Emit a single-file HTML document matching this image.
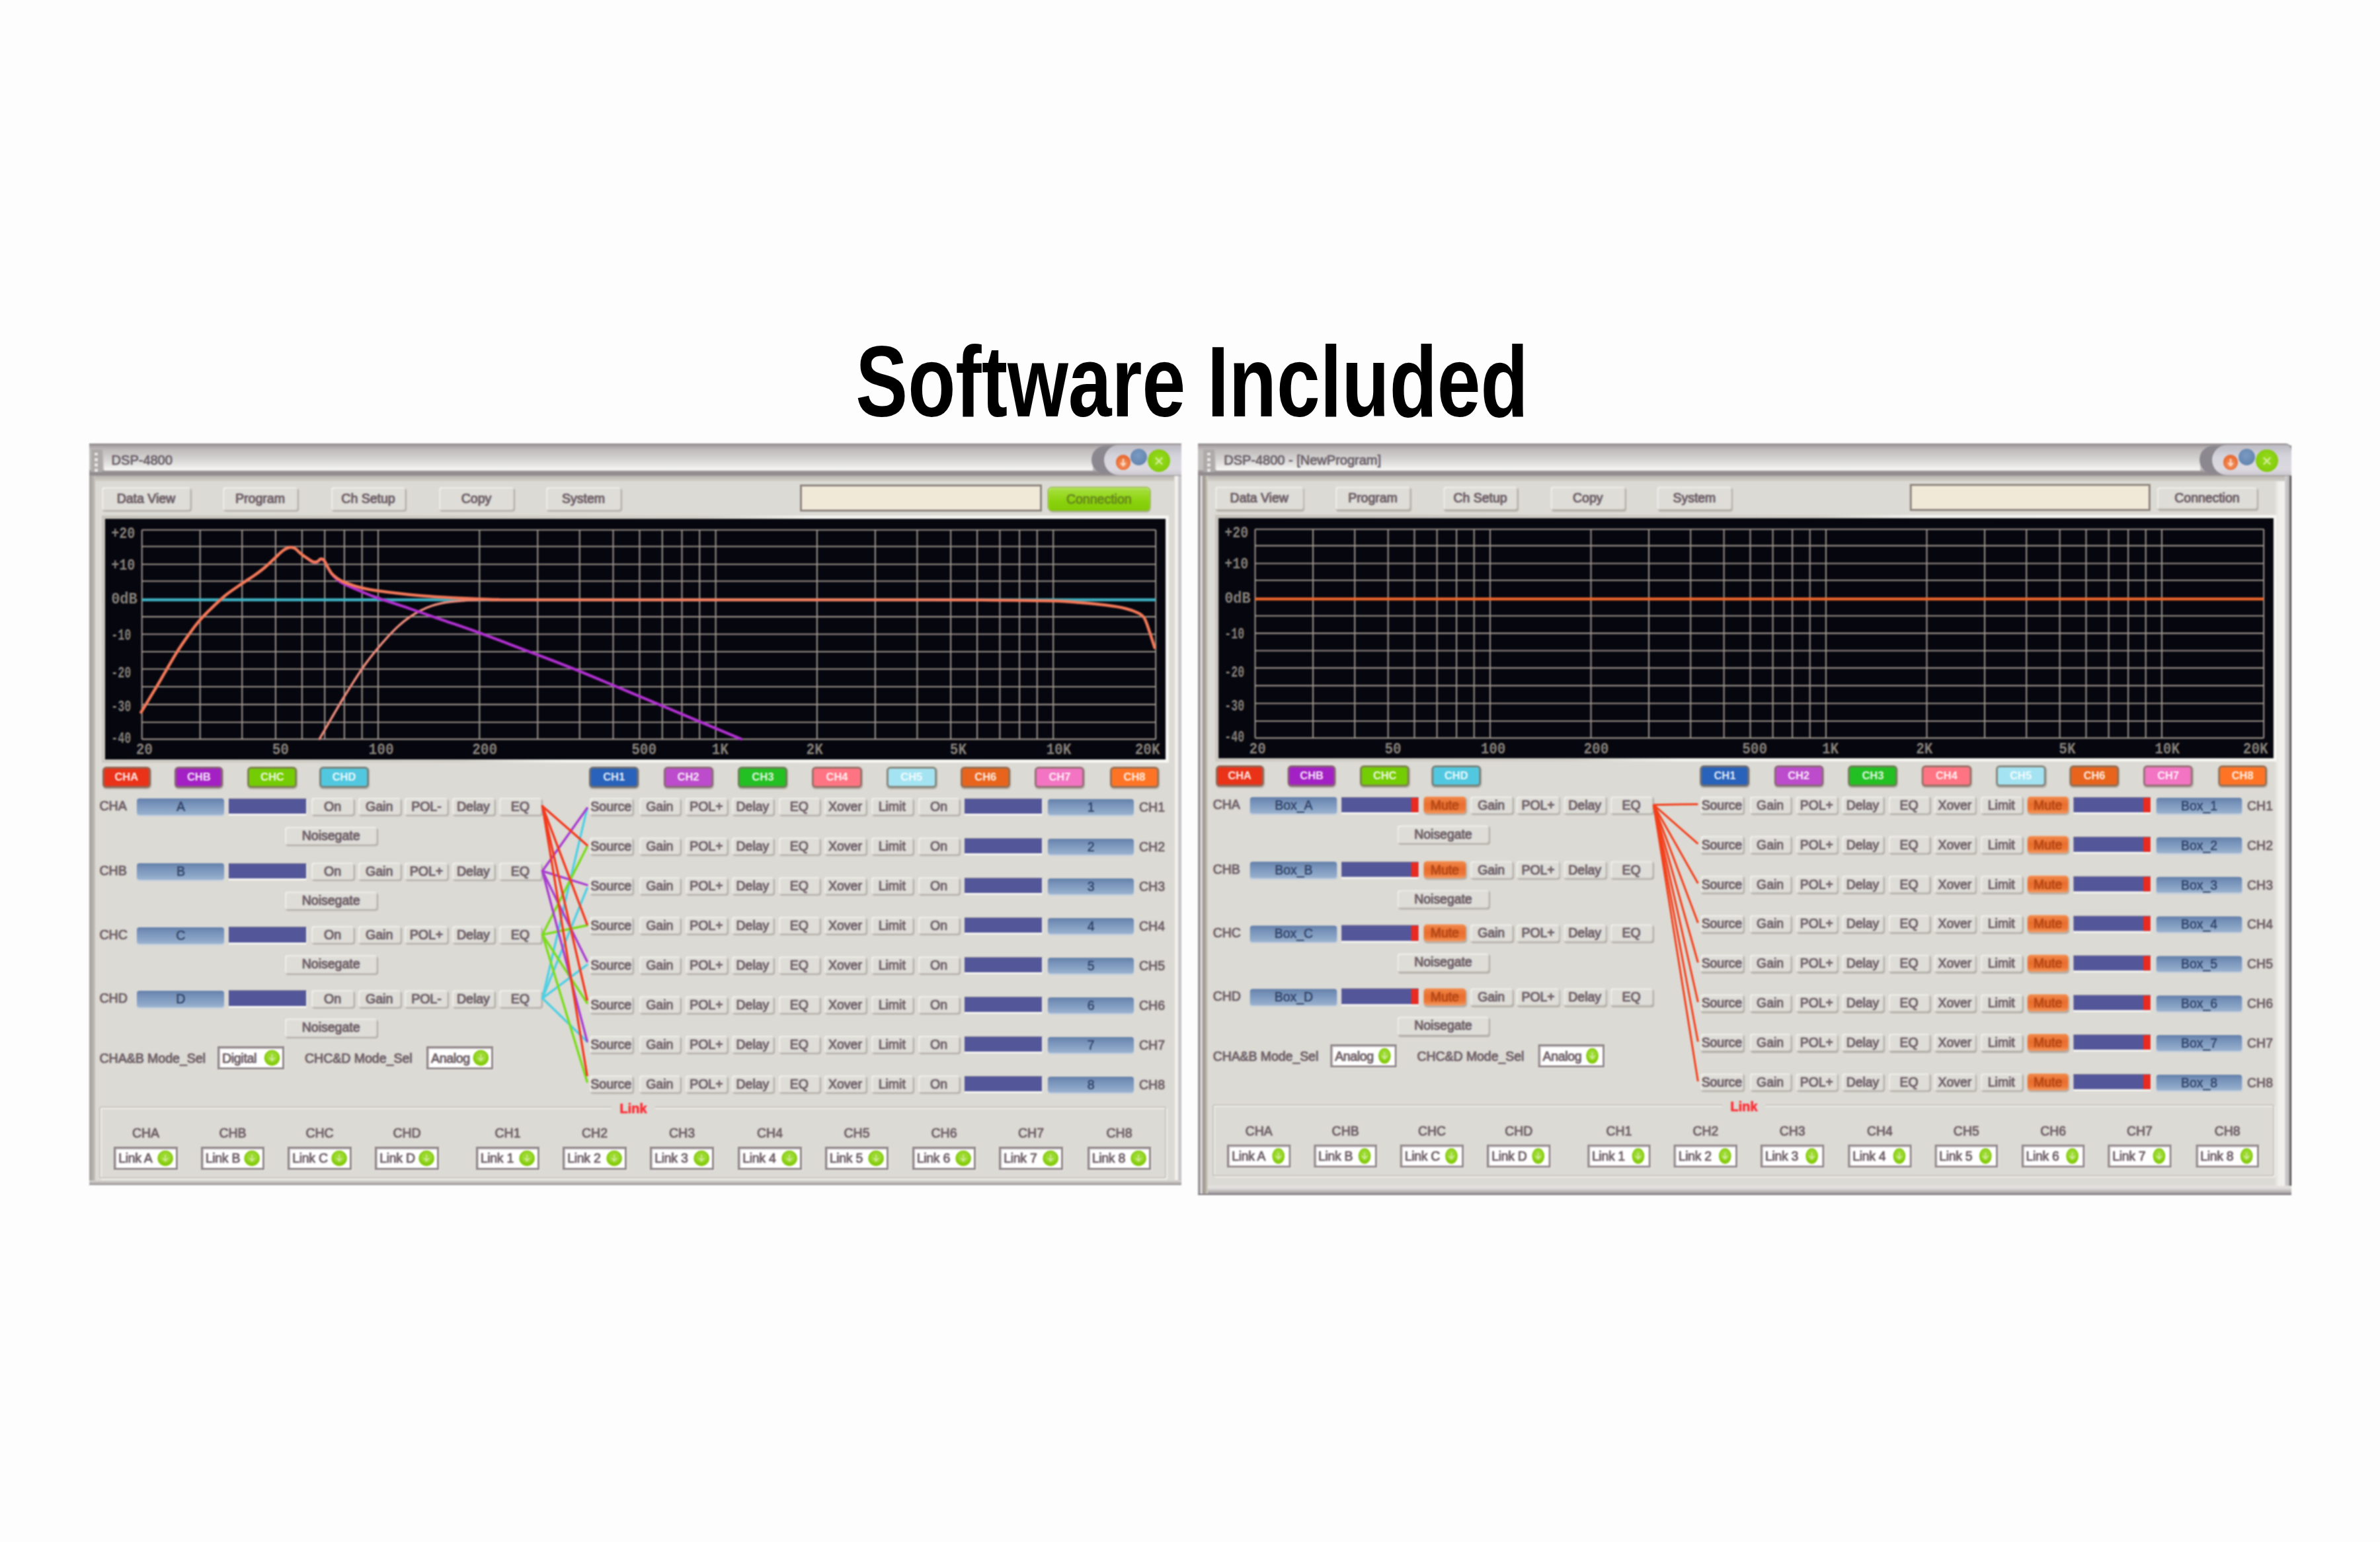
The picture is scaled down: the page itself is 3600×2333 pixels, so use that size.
<!DOCTYPE html><html><head><meta charset="utf-8"><title>Software Included</title><style>

html,body{margin:0;padding:0;background:#fdfdfd;}
#p{position:relative;width:3600px;height:2333px;overflow:hidden;background:#fdfdfd;font-family:"Liberation Sans",sans-serif;}
#p div,#p svg.g{position:absolute;box-sizing:border-box;}
.w{left:0;top:0;width:3600px;height:2333px;filter:blur(1.3px);}
.k{left:0;top:0;width:10px;height:10px;transform-origin:0 0;}
.b{font-size:19.5px;color:#70626a;-webkit-text-stroke:0.7px #70626a;text-shadow:0 0 2px rgba(112,98,106,.75);text-align:center;background:#deddd8;border-radius:4px;white-space:nowrap;
 box-shadow:inset 2px 2px 1.5px #efefeb,inset -1px -1px 1px #d0cdc7,1.5px 2px 1.5px #b2aea8;}
.b.cg{background:linear-gradient(180deg,#a6de44 0%,#9ada26 30%,#8ad20c 60%,#82ca06 100%);color:#68881e;-webkit-text-stroke:0.5px #68881e;text-shadow:0 0 2px rgba(104,136,30,.6);box-shadow:inset 0 2px 2px #b8e668,0 0 0 1.5px #94b84a,1px 3px 2px #a0a890;border-radius:5px;}
.b.mu{background:linear-gradient(180deg,#f08a4c 0%,#ea6e2e 45%,#ec7636 75%,#f49a62 100%);color:#b44818;-webkit-text-stroke:0.5px #b44818;text-shadow:0 0 2px rgba(180,72,24,.6);box-shadow:inset 0 1px 1px #f6a878,1px 2px 2px #b0a8a0;border-radius:5px;}
.c{font-size:16.5px;font-weight:bold;color:rgba(255,255,255,.9);text-align:center;border:3px solid rgba(128,114,100,.78);border-radius:6px;box-shadow:0.5px 1.5px 1.5px rgba(120,112,104,.45);}
.l{font-size:19.5px;color:#70626a;-webkit-text-stroke:0.6px #70626a;text-shadow:0 0 2px rgba(112,98,106,.7);white-space:nowrap;}
.l.lk{color:#fa3038;font-weight:bold;font-size:20px;-webkit-text-stroke:0.3px #fa3038;text-shadow:0 0 2px rgba(250,48,56,.6);}
.l.tt{font-size:20px;color:#6e646c;-webkit-text-stroke:0.5px #6e646c;text-shadow:0 0 2px rgba(110,100,108,.6);}
.n{font-size:19.5px;color:#33456a;-webkit-text-stroke:0.5px #33456a;text-align:center;border-radius:4px;background:linear-gradient(180deg,#6480aa 0%,#7792b9 30%,#86a1c4 65%,#9cb3cf 100%);box-shadow:0 1.5px 1.5px #c2cfdf;}
.m{background:#54569a;box-shadow:0 3px 0 #f6f6f2,1.5px 1px 0 #ecece8,0 -1px 0 #7c7a94;}
.m i{position:absolute;right:0;top:0;width:10.5px;height:100%;background:#e82a20;display:block;}
.d{font-size:19.5px;color:#70626a;-webkit-text-stroke:0.6px #70626a;text-shadow:0 0 2px rgba(112,98,106,.7);background:#fff;border:3px solid #90868a;box-shadow:inset 1.5px 1.5px 0 #dcd8d8,1px 1px 0 #f0f0ec;white-space:nowrap;letter-spacing:-0.3px;}
.d span{position:absolute;left:4px;top:0;}
.gt{font-family:"Liberation Mono",monospace;font-weight:bold;font-size:20.5px;fill:#858079;letter-spacing:0px;}
#t{left:3px;top:482px;width:3600px;height:190px;text-align:center;font-weight:bold;font-size:153px;line-height:190px;color:#000;white-space:nowrap;transform:scaleX(0.772);transform-origin:1800px 0;letter-spacing:0;}

</style></head><body><div id="p">
<div id="t">Software Included</div>
<div class="w">
<div style="left:134.6px;top:670.8px;width:1652.8px;height:1122.4px;background:#dcdad4;"></div><div style="left:134.6px;top:720.0px;width:9.0px;height:1073.2px;background:linear-gradient(90deg,#a29e9c,#b4b0ac 60%,#c8c5c0);"></div><div style="left:1776.5px;top:720.0px;width:5.5px;height:1065.2px;background:#f1f0ed;"></div><div style="left:1782.0px;top:720.0px;width:5.4px;height:1073.2px;background:linear-gradient(90deg,#d0ced0,#c2c0c4);"></div><div style="left:134.6px;top:1785.5px;width:1652.8px;height:7.7px;background:linear-gradient(180deg,#dcdad6,#b6b2b0 55%,#98949a);"></div><div style="left:134.6px;top:670.8px;width:1652.8px;height:49.5px;background:linear-gradient(180deg,#8a8486 0%,#aaa4a6 8%,#bab4b6 16%,#c2bebe 22%,#c2bebe 80%,#9c9698 86%,#8e888c 94%,#a09a9c 100%);"></div><div style="left:137.6px;top:679.8px;width:17.0px;height:34.0px;background:#aeaaaa;"></div><div style="left:143.1px;top:684.8px;width:5.0px;height:4.5px;background:#e6e4e4;border-radius:1px;"></div><div style="left:143.1px;top:693.0px;width:5.0px;height:4.5px;background:#e6e4e4;border-radius:1px;"></div><div style="left:143.1px;top:701.2px;width:5.0px;height:4.5px;background:#e6e4e4;border-radius:1px;"></div><div style="left:143.1px;top:709.4px;width:5.0px;height:4.5px;background:#e6e4e4;border-radius:1px;"></div><div style="left:156.6px;top:679.8px;width:1496.4px;height:32.5px;background:linear-gradient(180deg,#c0bcbc 0%,#cbc8c8 25%,#dddcdb 60%,#f1f1ef 90%,#f4f4f2 100%);border-radius:7px 0 0 2px;"></div><div class="l tt" style="left:168.6px;top:682.8px;width:300.0px;height:26.0px;line-height:26px;text-align:left;">DSP-4800</div><div style="left:1651.0px;top:673.8px;width:136.4px;height:43.5px;background:#8c8890;border-radius:24px 0 0 24px;"></div><div style="left:1670.0px;top:672.8px;width:117.4px;height:46.5px;border-radius:24px 0 0 24px;background:linear-gradient(180deg,#bcbac2,#d6d4dc 40%,#dcdae0 80%,#cac8ce);"></div><div style="left:1710.1px;top:678.5px;width:25.0px;height:25.0px;border-radius:50%;background:radial-gradient(circle at 45% 40%,#7a9ac2,#6486b0 70%,#7e94b4);"></div><div style="left:1687.7px;top:687.6px;width:22.0px;height:23.0px;border-radius:50%;background:radial-gradient(circle at 50% 60%,#f6a070,#e96c34 60%,#e27848);"></div><div style="left:1736.4px;top:679.8px;width:34.0px;height:34.0px;border-radius:50%;background:radial-gradient(circle at 50% 45%,#98dc20,#84cc0c 70%,#8ccc2c);"></div><svg class="g" style="left:1736.4px;top:679.8px" width="34" height="34"><path d="M12.5 13l9 9m0-9l-9 9" stroke="#d4eea4" stroke-width="2.2" fill="none" stroke-linecap="round"/></svg><svg class="g" style="left:1687.7px;top:687.8px" width="22" height="23"><path d="M11 6v10m-3.5-3.5l3.5 4l3.5-4" stroke="#fbd8c0" stroke-width="2.2" fill="none"/></svg><div style="left:143.6px;top:720.0px;width:1632.9px;height:7.5px;background:linear-gradient(180deg,#b8b3ae,#d2d0ca);"></div>
<div class="b" style="left:153.5px;top:737.0px;width:134.8px;height:34.5px;line-height:34.5px;">Data View</div><div class="b" style="left:337.0px;top:737.0px;width:113.0px;height:34.5px;line-height:34.5px;">Program</div><div class="b" style="left:501.0px;top:737.0px;width:112.0px;height:34.5px;line-height:34.5px;">Ch Setup</div><div class="b" style="left:664.0px;top:737.0px;width:113.0px;height:34.5px;line-height:34.5px;">Copy</div><div class="b" style="left:826.0px;top:737.0px;width:113.0px;height:34.5px;line-height:34.5px;">System</div><div style="left:1210.0px;top:732.5px;width:366.0px;height:41.0px;background:#f1e9d8;border:3px solid #8e867f;box-sizing:border-box;"></div><div class="b cg" style="left:1585.5px;top:737.5px;width:153.5px;height:34.0px;line-height:34.0px;">Connection</div><div style="left:153.8px;top:779.8px;width:1614.7px;height:374.6px;background:linear-gradient(135deg,#c6c3bc 0%,#d2d0c9 46%,#f2f2ee 54%,#f6f6f2 100%);"></div><svg class="g" style="left:158.8px;top:784.8px" width="1604.7" height="364.6" viewBox="158.8 784.8 1604.7 364.6"><rect x="158.8" y="784.8" width="1604.7" height="364.6" fill="#06060e"/><path d="M214.5 801.6V1118.2M302.5 801.6V1118.2M366.0 801.6V1118.2M416.7 801.6V1118.2M456.7 801.6V1118.2M491.0 801.6V1118.2M520.7 801.6V1118.2M547.4 801.6V1118.2M571.8 801.6V1118.2M725.1 801.6V1118.2M813.1 801.6V1118.2M876.6 801.6V1118.2M927.3 801.6V1118.2M967.3 801.6V1118.2M1001.6 801.6V1118.2M1031.3 801.6V1118.2M1058.0 801.6V1118.2M1082.4 801.6V1118.2M1235.7 801.6V1118.2M1323.7 801.6V1118.2M1387.2 801.6V1118.2M1437.9 801.6V1118.2M1477.9 801.6V1118.2M1512.2 801.6V1118.2M1541.9 801.6V1118.2M1568.6 801.6V1118.2M1593.0 801.6V1118.2M1748.0 801.6V1118.2M214.5 801.6H1748.0M214.5 826.5H1748.0M214.5 853.5H1748.0M214.5 879.0H1748.0M214.5 907.2H1748.0M214.5 932.9H1748.0M214.5 959.3H1748.0M214.5 985.8H1748.0M214.5 1012.0H1748.0M214.5 1038.8H1748.0M214.5 1065.7H1748.0M214.5 1092.6H1748.0M214.5 1118.2H1748.0" stroke="#9a928a" stroke-width="2.1" fill="none"/><path d="M214.5 907.3H1748.0" stroke="#3fb0c0" stroke-width="4.4"/><path d="M483.1 1117.8C486.1 1112.5 495.7 1096.0 501.5 1085.9C507.4 1075.8 512.7 1066.6 518.3 1057.3C524.0 1048.1 529.6 1039.1 535.2 1030.4C540.8 1021.7 546.1 1013.3 552.0 1005.2C557.8 997.1 564.8 988.5 570.4 981.7C576.1 974.8 580.3 970.0 585.6 964.2C590.9 958.4 596.8 952.2 602.4 947.1C608.0 942.0 613.6 937.5 619.2 933.6C624.8 929.7 630.4 926.4 636.0 923.5C641.6 920.7 647.2 918.4 652.8 916.5C658.4 914.6 664.0 913.2 669.6 912.1C675.2 911.0 680.8 910.4 686.4 909.7C692.0 909.1 696.9 908.8 703.2 908.4C709.6 908.0 716.0 907.8 724.4 907.6C732.8 907.3 748.8 907.1 753.6 907.1" stroke="#e88a7a" stroke-width="3.5" fill="none" stroke-linejoin="round" stroke-linecap="round"/><path d="M464.6 844.5C466.0 845.4 470.4 849.0 473.0 849.9C475.5 850.8 477.7 850.6 479.7 849.9C481.7 849.2 483.1 846.3 484.7 845.9C486.4 845.5 488.1 845.7 489.8 847.6C491.5 849.4 492.9 853.6 494.8 857.0C496.8 860.4 499.0 864.8 501.5 868.1C504.1 871.4 507.0 874.3 509.9 876.8C512.9 879.3 513.4 879.9 519.4 882.9C525.4 885.8 537.4 891.0 545.9 894.6C554.4 898.2 558.2 900.1 570.4 904.4C582.7 908.7 602.7 914.9 619.2 920.5C635.7 926.1 652.1 931.9 669.6 938.0C687.1 944.1 700.6 948.4 724.4 957.1C748.2 965.9 787.1 980.7 812.5 990.4C837.8 1000.1 853.6 1006.1 876.3 1015.3C899.0 1024.5 907.8 1028.4 948.6 1045.5C989.4 1062.7 1092.3 1105.9 1121.0 1118.0" stroke="#b030d0" stroke-width="4.2" fill="none" stroke-linejoin="round" stroke-linecap="round"/><path d="M213.1 1077.5C216.4 1072.2 226.6 1055.6 232.6 1045.5C238.7 1035.5 243.8 1026.5 249.4 1017.0C255.0 1007.5 260.6 997.4 266.2 988.4C271.8 979.4 277.5 971.1 283.1 963.2C288.7 955.2 294.3 947.4 299.9 940.7C305.5 933.9 311.1 928.5 316.7 922.9C322.3 917.3 329.0 911.1 333.5 907.1C338.0 903.0 338.5 902.1 343.6 898.3C348.6 894.5 357.0 888.8 363.7 884.2C370.4 879.6 377.7 875.1 383.9 870.8C390.1 866.4 395.5 862.4 400.7 858.0C405.9 853.6 410.7 848.7 415.2 844.5C419.6 840.4 423.8 835.9 427.6 833.1C431.3 830.4 434.6 828.6 437.7 828.1C440.8 827.5 443.2 828.1 446.1 829.7C449.0 831.4 452.1 835.4 455.2 837.8C458.2 840.3 461.6 842.6 464.6 844.5C467.5 846.5 470.4 848.7 473.0 849.6C475.5 850.4 477.7 850.3 479.7 849.6C481.7 848.9 483.1 845.9 484.7 845.5C486.4 845.2 488.1 845.4 489.8 847.2C491.5 849.1 492.9 853.3 494.8 856.6C496.8 860.0 499.0 864.4 501.5 867.4C504.1 870.4 507.0 872.7 509.9 874.8C512.9 876.9 515.2 878.3 519.4 880.2C523.6 882.0 529.7 884.2 535.2 885.9C540.6 887.6 546.1 889.0 552.0 890.3C557.8 891.5 562.0 892.4 570.4 893.6C578.9 894.8 591.5 896.4 602.4 897.6C613.3 898.9 624.8 900.1 636.0 901.0C647.2 902.0 658.4 902.7 669.6 903.4C680.8 904.0 694.1 904.6 703.2 905.0C712.4 905.5 716.0 905.7 724.4 906.1C732.8 906.4 741.0 906.7 753.6 906.9C766.2 907.1 692.3 907.2 800.0 907.3C907.7 907.4 1283.8 907.2 1400.0 907.3C1516.2 907.4 1464.5 907.4 1497.0 907.7C1529.5 908.0 1572.2 908.4 1595.0 909.0C1617.8 909.6 1620.6 910.5 1633.5 911.6C1646.4 912.7 1661.1 914.0 1672.4 915.4C1683.8 916.8 1693.5 918.3 1701.6 920.3C1709.7 922.2 1716.2 924.7 1721.0 927.1C1725.8 929.5 1727.8 930.2 1730.7 934.9C1733.6 939.6 1735.9 947.8 1738.5 955.3C1741.1 962.8 1745.0 975.5 1746.3 979.6" stroke="#f27858" stroke-width="4.5" fill="none" stroke-linejoin="round" stroke-linecap="round"/><text transform="translate(168 813.4) scale(1 1.2)" textLength="36" lengthAdjust="spacingAndGlyphs" class="gt">+20</text><text transform="translate(168 861.4) scale(1 1.2)" textLength="36" lengthAdjust="spacingAndGlyphs" class="gt">+10</text><text transform="translate(168 913.1) scale(1 1.2)" textLength="39.5" lengthAdjust="spacingAndGlyphs" class="gt">0dB</text><text transform="translate(168 967.6) scale(1 1.2)" textLength="30" lengthAdjust="spacingAndGlyphs" class="gt">-10</text><text transform="translate(168 1024.9) scale(1 1.2)" textLength="30" lengthAdjust="spacingAndGlyphs" class="gt">-20</text><text transform="translate(168 1076.0) scale(1 1.2)" textLength="30" lengthAdjust="spacingAndGlyphs" class="gt">-30</text><text transform="translate(168 1123.9) scale(1 1.2)" textLength="30" lengthAdjust="spacingAndGlyphs" class="gt">-40</text><text transform="translate(205.5 1141.3) scale(1.03 1.2)" class="gt">20</text><text transform="translate(411.5 1141.3) scale(1.03 1.2)" class="gt">50</text><text transform="translate(557.4 1141.3) scale(1.03 1.2)" class="gt">100</text><text transform="translate(714 1141.3) scale(1.03 1.2)" class="gt">200</text><text transform="translate(955 1141.3) scale(1.03 1.2)" class="gt">500</text><text transform="translate(1076.4 1141.3) scale(1.03 1.2)" class="gt">1K</text><text transform="translate(1219.4 1141.3) scale(1.03 1.2)" class="gt">2K</text><text transform="translate(1436.6 1141.3) scale(1.03 1.2)" class="gt">5K</text><text transform="translate(1582.2 1141.3) scale(1.03 1.2)" class="gt">10K</text><text transform="translate(1716.5 1141.3) scale(1.03 1.2)" class="gt">20K</text></svg><div class="c" style="left:155.0px;top:1159.6px;width:72.5px;height:32.4px;background:#e93218;line-height:25.5px;">CHA</div><div class="c" style="left:264.1px;top:1159.6px;width:73.4px;height:32.4px;background:#a320c4;line-height:25.5px;">CHB</div><div class="c" style="left:374.3px;top:1159.6px;width:75.2px;height:32.4px;background:#74cc04;line-height:25.5px;">CHC</div><div class="c" style="left:482.5px;top:1159.6px;width:75.5px;height:32.4px;background:#52c8e0;line-height:25.5px;">CHD</div><div class="c" style="left:891.1px;top:1159.6px;width:75.2px;height:32.4px;background:#2862ba;line-height:25.5px;">CH1</div><div class="c" style="left:1003.5px;top:1159.6px;width:75.0px;height:32.4px;background:#bc4ccc;line-height:25.5px;">CH2</div><div class="c" style="left:1116.2px;top:1159.6px;width:75.3px;height:32.4px;background:#22c022;line-height:25.5px;">CH3</div><div class="c" style="left:1228.0px;top:1159.6px;width:76.0px;height:32.4px;background:#ff7482;line-height:25.5px;">CH4</div><div class="c" style="left:1340.5px;top:1159.6px;width:76.0px;height:32.4px;background:#a4e4f2;line-height:25.5px;">CH5</div><div class="c" style="left:1453.1px;top:1159.6px;width:75.4px;height:32.4px;background:#e8641c;line-height:25.5px;">CH6</div><div class="c" style="left:1565.3px;top:1159.6px;width:75.2px;height:32.4px;background:#f274c2;line-height:25.5px;">CH7</div><div class="c" style="left:1679.0px;top:1159.6px;width:74.1px;height:32.4px;background:#ff7424;line-height:25.5px;">CH8</div><div class="l" style="left:150.5px;top:1206.2px;width:300.0px;height:26.0px;line-height:26px;text-align:left;">CHA</div><div class="n" style="left:207.4px;top:1208.1px;width:132.0px;height:25.0px;line-height:25.5px;">A</div><div class="m" style="left:346.3px;top:1208.8px;width:116.4px;height:22.4px;"></div><div class="b" style="left:471.0px;top:1206.9px;width:64.0px;height:26.0px;line-height:26.0px;">On</div><div class="b" style="left:541.8px;top:1206.9px;width:63.8px;height:26.0px;line-height:26.0px;">Gain</div><div class="b" style="left:612.4px;top:1206.9px;width:65.1px;height:26.0px;line-height:26.0px;">POL-</div><div class="b" style="left:684.0px;top:1206.9px;width:63.8px;height:26.0px;line-height:26.0px;">Delay</div><div class="b" style="left:754.5px;top:1206.9px;width:64.5px;height:26.0px;line-height:26.0px;">EQ</div><div class="b" style="left:430.8px;top:1250.7px;width:139.7px;height:27.7px;line-height:27.7px;">Noisegate</div><div class="l" style="left:150.5px;top:1304.3px;width:300.0px;height:26.0px;line-height:26px;text-align:left;">CHB</div><div class="n" style="left:207.4px;top:1306.2px;width:132.0px;height:25.0px;line-height:25.5px;">B</div><div class="m" style="left:346.3px;top:1306.9px;width:116.4px;height:22.4px;"></div><div class="b" style="left:471.0px;top:1305.0px;width:64.0px;height:26.0px;line-height:26.0px;">On</div><div class="b" style="left:541.8px;top:1305.0px;width:63.8px;height:26.0px;line-height:26.0px;">Gain</div><div class="b" style="left:612.4px;top:1305.0px;width:65.1px;height:26.0px;line-height:26.0px;">POL+</div><div class="b" style="left:684.0px;top:1305.0px;width:63.8px;height:26.0px;line-height:26.0px;">Delay</div><div class="b" style="left:754.5px;top:1305.0px;width:64.5px;height:26.0px;line-height:26.0px;">EQ</div><div class="b" style="left:430.8px;top:1348.8px;width:139.7px;height:27.7px;line-height:27.7px;">Noisegate</div><div class="l" style="left:150.5px;top:1400.7px;width:300.0px;height:26.0px;line-height:26px;text-align:left;">CHC</div><div class="n" style="left:207.4px;top:1402.6px;width:132.0px;height:25.0px;line-height:25.5px;">C</div><div class="m" style="left:346.3px;top:1403.3px;width:116.4px;height:22.4px;"></div><div class="b" style="left:471.0px;top:1401.4px;width:64.0px;height:26.0px;line-height:26.0px;">On</div><div class="b" style="left:541.8px;top:1401.4px;width:63.8px;height:26.0px;line-height:26.0px;">Gain</div><div class="b" style="left:612.4px;top:1401.4px;width:65.1px;height:26.0px;line-height:26.0px;">POL+</div><div class="b" style="left:684.0px;top:1401.4px;width:63.8px;height:26.0px;line-height:26.0px;">Delay</div><div class="b" style="left:754.5px;top:1401.4px;width:64.5px;height:26.0px;line-height:26.0px;">EQ</div><div class="b" style="left:430.8px;top:1445.2px;width:139.7px;height:27.7px;line-height:27.7px;">Noisegate</div><div class="l" style="left:150.5px;top:1496.8px;width:300.0px;height:26.0px;line-height:26px;text-align:left;">CHD</div><div class="n" style="left:207.4px;top:1498.7px;width:132.0px;height:25.0px;line-height:25.5px;">D</div><div class="m" style="left:346.3px;top:1499.4px;width:116.4px;height:22.4px;"></div><div class="b" style="left:471.0px;top:1497.5px;width:64.0px;height:26.0px;line-height:26.0px;">On</div><div class="b" style="left:541.8px;top:1497.5px;width:63.8px;height:26.0px;line-height:26.0px;">Gain</div><div class="b" style="left:612.4px;top:1497.5px;width:65.1px;height:26.0px;line-height:26.0px;">POL-</div><div class="b" style="left:684.0px;top:1497.5px;width:63.8px;height:26.0px;line-height:26.0px;">Delay</div><div class="b" style="left:754.5px;top:1497.5px;width:64.5px;height:26.0px;line-height:26.0px;">EQ</div><div class="b" style="left:430.8px;top:1541.3px;width:139.7px;height:27.7px;line-height:27.7px;">Noisegate</div><div class="l" style="left:150.5px;top:1588.0px;width:300.0px;height:26.0px;line-height:26px;text-align:left;">CHA&amp;B Mode_Sel</div><div class="d" style="left:329.0px;top:1582.5px;width:101.0px;height:35.3px;line-height:30.3px;"><span>Digital</span><svg width="101.0" height="35.3" style="position:absolute;left:-2.5px;top:-2.5px"><ellipse cx="81.5" cy="17.6" rx="11.8" ry="11.8" fill="#86cc10"/><ellipse cx="81.5" cy="16.1" rx="8.9" ry="8.3" fill="#a2de3a" opacity=".7"/><path d="M81.5 12.1v9m-4 -4l4 4.5l4 -4.5" stroke="#dcf0b8" stroke-width="1.8" fill="none" opacity=".8"/></svg></div><div class="l" style="left:461.0px;top:1588.0px;width:300.0px;height:26.0px;line-height:26px;text-align:left;">CHC&amp;D Mode_Sel</div><div class="d" style="left:645.0px;top:1582.5px;width:100.8px;height:35.3px;line-height:30.3px;"><span>Analog</span><svg width="100.8" height="35.3" style="position:absolute;left:-2.5px;top:-2.5px"><ellipse cx="81.3" cy="17.6" rx="11.8" ry="11.8" fill="#86cc10"/><ellipse cx="81.3" cy="16.1" rx="8.9" ry="8.3" fill="#a2de3a" opacity=".7"/><path d="M81.3 12.1v9m-4 -4l4 4.5l4 -4.5" stroke="#dcf0b8" stroke-width="1.8" fill="none" opacity=".8"/></svg></div><div class="b" style="left:891.6px;top:1206.7px;width:65.2px;height:26.2px;line-height:26.2px;">Source</div><div class="b" style="left:966.6px;top:1206.7px;width:62.4px;height:26.2px;line-height:26.2px;">Gain</div><div class="b" style="left:1037.0px;top:1206.7px;width:62.7px;height:26.2px;line-height:26.2px;">POL+</div><div class="b" style="left:1106.8px;top:1206.7px;width:63.2px;height:26.2px;line-height:26.2px;">Delay</div><div class="b" style="left:1178.0px;top:1206.7px;width:61.5px;height:26.2px;line-height:26.2px;">EQ</div><div class="b" style="left:1247.0px;top:1206.7px;width:63.0px;height:26.2px;line-height:26.2px;">Xover</div><div class="b" style="left:1318.0px;top:1206.7px;width:62.5px;height:26.2px;line-height:26.2px;">Limit</div><div class="b" style="left:1389.0px;top:1206.7px;width:62.0px;height:26.2px;line-height:26.2px;">On</div><div class="m" style="left:1459.3px;top:1209.0px;width:116.4px;height:22.2px;"></div><div class="n" style="left:1584.7px;top:1208.5px;width:130.8px;height:24.6px;line-height:25.5px;">1</div><div class="l" style="left:1723.0px;top:1207.7px;width:300.0px;height:26.0px;line-height:26px;text-align:left;">CH1</div><div class="b" style="left:891.6px;top:1266.8px;width:65.2px;height:26.2px;line-height:26.2px;">Source</div><div class="b" style="left:966.6px;top:1266.8px;width:62.4px;height:26.2px;line-height:26.2px;">Gain</div><div class="b" style="left:1037.0px;top:1266.8px;width:62.7px;height:26.2px;line-height:26.2px;">POL+</div><div class="b" style="left:1106.8px;top:1266.8px;width:63.2px;height:26.2px;line-height:26.2px;">Delay</div><div class="b" style="left:1178.0px;top:1266.8px;width:61.5px;height:26.2px;line-height:26.2px;">EQ</div><div class="b" style="left:1247.0px;top:1266.8px;width:63.0px;height:26.2px;line-height:26.2px;">Xover</div><div class="b" style="left:1318.0px;top:1266.8px;width:62.5px;height:26.2px;line-height:26.2px;">Limit</div><div class="b" style="left:1389.0px;top:1266.8px;width:62.0px;height:26.2px;line-height:26.2px;">On</div><div class="m" style="left:1459.3px;top:1269.0px;width:116.4px;height:22.2px;"></div><div class="n" style="left:1584.7px;top:1268.5px;width:130.8px;height:24.6px;line-height:25.5px;">2</div><div class="l" style="left:1723.0px;top:1267.8px;width:300.0px;height:26.0px;line-height:26px;text-align:left;">CH2</div><div class="b" style="left:891.6px;top:1326.8px;width:65.2px;height:26.2px;line-height:26.2px;">Source</div><div class="b" style="left:966.6px;top:1326.8px;width:62.4px;height:26.2px;line-height:26.2px;">Gain</div><div class="b" style="left:1037.0px;top:1326.8px;width:62.7px;height:26.2px;line-height:26.2px;">POL+</div><div class="b" style="left:1106.8px;top:1326.8px;width:63.2px;height:26.2px;line-height:26.2px;">Delay</div><div class="b" style="left:1178.0px;top:1326.8px;width:61.5px;height:26.2px;line-height:26.2px;">EQ</div><div class="b" style="left:1247.0px;top:1326.8px;width:63.0px;height:26.2px;line-height:26.2px;">Xover</div><div class="b" style="left:1318.0px;top:1326.8px;width:62.5px;height:26.2px;line-height:26.2px;">Limit</div><div class="b" style="left:1389.0px;top:1326.8px;width:62.0px;height:26.2px;line-height:26.2px;">On</div><div class="m" style="left:1459.3px;top:1329.1px;width:116.4px;height:22.2px;"></div><div class="n" style="left:1584.7px;top:1328.6px;width:130.8px;height:24.6px;line-height:25.5px;">3</div><div class="l" style="left:1723.0px;top:1327.8px;width:300.0px;height:26.0px;line-height:26px;text-align:left;">CH3</div><div class="b" style="left:891.6px;top:1386.8px;width:65.2px;height:26.2px;line-height:26.2px;">Source</div><div class="b" style="left:966.6px;top:1386.8px;width:62.4px;height:26.2px;line-height:26.2px;">Gain</div><div class="b" style="left:1037.0px;top:1386.8px;width:62.7px;height:26.2px;line-height:26.2px;">POL+</div><div class="b" style="left:1106.8px;top:1386.8px;width:63.2px;height:26.2px;line-height:26.2px;">Delay</div><div class="b" style="left:1178.0px;top:1386.8px;width:61.5px;height:26.2px;line-height:26.2px;">EQ</div><div class="b" style="left:1247.0px;top:1386.8px;width:63.0px;height:26.2px;line-height:26.2px;">Xover</div><div class="b" style="left:1318.0px;top:1386.8px;width:62.5px;height:26.2px;line-height:26.2px;">Limit</div><div class="b" style="left:1389.0px;top:1386.8px;width:62.0px;height:26.2px;line-height:26.2px;">On</div><div class="m" style="left:1459.3px;top:1389.1px;width:116.4px;height:22.2px;"></div><div class="n" style="left:1584.7px;top:1388.6px;width:130.8px;height:24.6px;line-height:25.5px;">4</div><div class="l" style="left:1723.0px;top:1387.8px;width:300.0px;height:26.0px;line-height:26px;text-align:left;">CH4</div><div class="b" style="left:891.6px;top:1446.9px;width:65.2px;height:26.2px;line-height:26.2px;">Source</div><div class="b" style="left:966.6px;top:1446.9px;width:62.4px;height:26.2px;line-height:26.2px;">Gain</div><div class="b" style="left:1037.0px;top:1446.9px;width:62.7px;height:26.2px;line-height:26.2px;">POL+</div><div class="b" style="left:1106.8px;top:1446.9px;width:63.2px;height:26.2px;line-height:26.2px;">Delay</div><div class="b" style="left:1178.0px;top:1446.9px;width:61.5px;height:26.2px;line-height:26.2px;">EQ</div><div class="b" style="left:1247.0px;top:1446.9px;width:63.0px;height:26.2px;line-height:26.2px;">Xover</div><div class="b" style="left:1318.0px;top:1446.9px;width:62.5px;height:26.2px;line-height:26.2px;">Limit</div><div class="b" style="left:1389.0px;top:1446.9px;width:62.0px;height:26.2px;line-height:26.2px;">On</div><div class="m" style="left:1459.3px;top:1449.2px;width:116.4px;height:22.2px;"></div><div class="n" style="left:1584.7px;top:1448.7px;width:130.8px;height:24.6px;line-height:25.5px;">5</div><div class="l" style="left:1723.0px;top:1447.9px;width:300.0px;height:26.0px;line-height:26px;text-align:left;">CH5</div><div class="b" style="left:891.6px;top:1507.0px;width:65.2px;height:26.2px;line-height:26.2px;">Source</div><div class="b" style="left:966.6px;top:1507.0px;width:62.4px;height:26.2px;line-height:26.2px;">Gain</div><div class="b" style="left:1037.0px;top:1507.0px;width:62.7px;height:26.2px;line-height:26.2px;">POL+</div><div class="b" style="left:1106.8px;top:1507.0px;width:63.2px;height:26.2px;line-height:26.2px;">Delay</div><div class="b" style="left:1178.0px;top:1507.0px;width:61.5px;height:26.2px;line-height:26.2px;">EQ</div><div class="b" style="left:1247.0px;top:1507.0px;width:63.0px;height:26.2px;line-height:26.2px;">Xover</div><div class="b" style="left:1318.0px;top:1507.0px;width:62.5px;height:26.2px;line-height:26.2px;">Limit</div><div class="b" style="left:1389.0px;top:1507.0px;width:62.0px;height:26.2px;line-height:26.2px;">On</div><div class="m" style="left:1459.3px;top:1509.2px;width:116.4px;height:22.2px;"></div><div class="n" style="left:1584.7px;top:1508.8px;width:130.8px;height:24.6px;line-height:25.5px;">6</div><div class="l" style="left:1723.0px;top:1508.0px;width:300.0px;height:26.0px;line-height:26px;text-align:left;">CH6</div><div class="b" style="left:891.6px;top:1567.0px;width:65.2px;height:26.2px;line-height:26.2px;">Source</div><div class="b" style="left:966.6px;top:1567.0px;width:62.4px;height:26.2px;line-height:26.2px;">Gain</div><div class="b" style="left:1037.0px;top:1567.0px;width:62.7px;height:26.2px;line-height:26.2px;">POL+</div><div class="b" style="left:1106.8px;top:1567.0px;width:63.2px;height:26.2px;line-height:26.2px;">Delay</div><div class="b" style="left:1178.0px;top:1567.0px;width:61.5px;height:26.2px;line-height:26.2px;">EQ</div><div class="b" style="left:1247.0px;top:1567.0px;width:63.0px;height:26.2px;line-height:26.2px;">Xover</div><div class="b" style="left:1318.0px;top:1567.0px;width:62.5px;height:26.2px;line-height:26.2px;">Limit</div><div class="b" style="left:1389.0px;top:1567.0px;width:62.0px;height:26.2px;line-height:26.2px;">On</div><div class="m" style="left:1459.3px;top:1569.3px;width:116.4px;height:22.2px;"></div><div class="n" style="left:1584.7px;top:1568.8px;width:130.8px;height:24.6px;line-height:25.5px;">7</div><div class="l" style="left:1723.0px;top:1568.0px;width:300.0px;height:26.0px;line-height:26px;text-align:left;">CH7</div><div class="b" style="left:891.6px;top:1627.0px;width:65.2px;height:26.2px;line-height:26.2px;">Source</div><div class="b" style="left:966.6px;top:1627.0px;width:62.4px;height:26.2px;line-height:26.2px;">Gain</div><div class="b" style="left:1037.0px;top:1627.0px;width:62.7px;height:26.2px;line-height:26.2px;">POL+</div><div class="b" style="left:1106.8px;top:1627.0px;width:63.2px;height:26.2px;line-height:26.2px;">Delay</div><div class="b" style="left:1178.0px;top:1627.0px;width:61.5px;height:26.2px;line-height:26.2px;">EQ</div><div class="b" style="left:1247.0px;top:1627.0px;width:63.0px;height:26.2px;line-height:26.2px;">Xover</div><div class="b" style="left:1318.0px;top:1627.0px;width:62.5px;height:26.2px;line-height:26.2px;">Limit</div><div class="b" style="left:1389.0px;top:1627.0px;width:62.0px;height:26.2px;line-height:26.2px;">On</div><div class="m" style="left:1459.3px;top:1629.3px;width:116.4px;height:22.2px;"></div><div class="n" style="left:1584.7px;top:1628.8px;width:130.8px;height:24.6px;line-height:25.5px;">8</div><div class="l" style="left:1723.0px;top:1628.0px;width:300.0px;height:26.0px;line-height:26px;text-align:left;">CH8</div><svg class="g" style="left:800px;top:1190px" width="110" height="480" viewBox="800 1190 110 480"><path d="M820.5 1510.3L888 1223.3" stroke="#4fd0e4" stroke-width="3.4" stroke-linecap="round"/><path d="M820.5 1510.3L888 1343.8" stroke="#4fd0e4" stroke-width="3.4" stroke-linecap="round"/><path d="M820.5 1510.3L888 1459.6" stroke="#4fd0e4" stroke-width="3.4" stroke-linecap="round"/><path d="M820.5 1510.3L888 1575.8" stroke="#4fd0e4" stroke-width="3.4" stroke-linecap="round"/><path d="M820.5 1414.2L888 1281.0" stroke="#7adc1c" stroke-width="3.4" stroke-linecap="round"/><path d="M820.5 1414.2L888 1400.0" stroke="#7adc1c" stroke-width="3.4" stroke-linecap="round"/><path d="M820.5 1414.2L888 1517.5" stroke="#7adc1c" stroke-width="3.4" stroke-linecap="round"/><path d="M820.5 1414.2L888 1636.6" stroke="#7adc1c" stroke-width="3.4" stroke-linecap="round"/><path d="M820.5 1317.8L888 1222.8" stroke="#a83cd0" stroke-width="3.4" stroke-linecap="round"/><path d="M820.5 1317.8L888 1339.0" stroke="#a83cd0" stroke-width="3.4" stroke-linecap="round"/><path d="M820.5 1317.8L888 1454.6" stroke="#a83cd0" stroke-width="3.4" stroke-linecap="round"/><path d="M820.5 1317.8L888 1575.0" stroke="#a83cd0" stroke-width="3.4" stroke-linecap="round"/><path d="M820.5 1219.7L888 1278.7" stroke="#f23a1e" stroke-width="3.4" stroke-linecap="round"/><path d="M820.5 1219.7L888 1398.4" stroke="#f23a1e" stroke-width="3.4" stroke-linecap="round"/><path d="M820.5 1219.7L888 1512.5" stroke="#f23a1e" stroke-width="3.4" stroke-linecap="round"/><path d="M820.5 1219.7L888 1626.7" stroke="#f23a1e" stroke-width="3.4" stroke-linecap="round"/></svg><div style="left:149.5px;top:1673.8px;width:1614.5px;height:109.7px;border:2px solid #c9c6bf;box-shadow:inset 2px 2px 0 #efeeea, 2px 2px 0 #efeeea;box-sizing:border-box;border-radius:3px;"></div><div style="left:925.0px;top:1662.0px;width:66.0px;height:28.0px;background:#dcdad4;"></div><div class="l lk" style="left:858.0px;top:1664.0px;width:200.0px;height:26.0px;line-height:26px;text-align:center;">Link</div><div class="l" style="left:120.5px;top:1700.5px;width:200.0px;height:26.0px;line-height:26px;text-align:center;">CHA</div><div class="d" style="left:172.2px;top:1734.8px;width:96.6px;height:34.9px;line-height:29.9px;"><span>Link A</span><svg width="96.6" height="34.9" style="position:absolute;left:-2.5px;top:-2.5px"><ellipse cx="77.1" cy="17.5" rx="11.8" ry="11.8" fill="#86cc10"/><ellipse cx="77.1" cy="16.0" rx="8.9" ry="8.3" fill="#a2de3a" opacity=".7"/><path d="M77.1 12.0v9m-4 -4l4 4.5l4 -4.5" stroke="#dcf0b8" stroke-width="1.8" fill="none" opacity=".8"/></svg></div><div class="l" style="left:252.0px;top:1700.5px;width:200.0px;height:26.0px;line-height:26px;text-align:center;">CHB</div><div class="d" style="left:303.7px;top:1734.8px;width:96.6px;height:34.9px;line-height:29.9px;"><span>Link B</span><svg width="96.6" height="34.9" style="position:absolute;left:-2.5px;top:-2.5px"><ellipse cx="77.1" cy="17.5" rx="11.8" ry="11.8" fill="#86cc10"/><ellipse cx="77.1" cy="16.0" rx="8.9" ry="8.3" fill="#a2de3a" opacity=".7"/><path d="M77.1 12.0v9m-4 -4l4 4.5l4 -4.5" stroke="#dcf0b8" stroke-width="1.8" fill="none" opacity=".8"/></svg></div><div class="l" style="left:383.5px;top:1700.5px;width:200.0px;height:26.0px;line-height:26px;text-align:center;">CHC</div><div class="d" style="left:435.2px;top:1734.8px;width:96.6px;height:34.9px;line-height:29.9px;"><span>Link C</span><svg width="96.6" height="34.9" style="position:absolute;left:-2.5px;top:-2.5px"><ellipse cx="77.1" cy="17.5" rx="11.8" ry="11.8" fill="#86cc10"/><ellipse cx="77.1" cy="16.0" rx="8.9" ry="8.3" fill="#a2de3a" opacity=".7"/><path d="M77.1 12.0v9m-4 -4l4 4.5l4 -4.5" stroke="#dcf0b8" stroke-width="1.8" fill="none" opacity=".8"/></svg></div><div class="l" style="left:515.5px;top:1700.5px;width:200.0px;height:26.0px;line-height:26px;text-align:center;">CHD</div><div class="d" style="left:567.2px;top:1734.8px;width:96.6px;height:34.9px;line-height:29.9px;"><span>Link D</span><svg width="96.6" height="34.9" style="position:absolute;left:-2.5px;top:-2.5px"><ellipse cx="77.1" cy="17.5" rx="11.8" ry="11.8" fill="#86cc10"/><ellipse cx="77.1" cy="16.0" rx="8.9" ry="8.3" fill="#a2de3a" opacity=".7"/><path d="M77.1 12.0v9m-4 -4l4 4.5l4 -4.5" stroke="#dcf0b8" stroke-width="1.8" fill="none" opacity=".8"/></svg></div><div class="l" style="left:668.0px;top:1700.5px;width:200.0px;height:26.0px;line-height:26px;text-align:center;">CH1</div><div class="d" style="left:719.7px;top:1734.8px;width:96.6px;height:34.9px;line-height:29.9px;"><span>Link 1</span><svg width="96.6" height="34.9" style="position:absolute;left:-2.5px;top:-2.5px"><ellipse cx="77.1" cy="17.5" rx="11.8" ry="11.8" fill="#86cc10"/><ellipse cx="77.1" cy="16.0" rx="8.9" ry="8.3" fill="#a2de3a" opacity=".7"/><path d="M77.1 12.0v9m-4 -4l4 4.5l4 -4.5" stroke="#dcf0b8" stroke-width="1.8" fill="none" opacity=".8"/></svg></div><div class="l" style="left:799.5px;top:1700.5px;width:200.0px;height:26.0px;line-height:26px;text-align:center;">CH2</div><div class="d" style="left:851.2px;top:1734.8px;width:96.6px;height:34.9px;line-height:29.9px;"><span>Link 2</span><svg width="96.6" height="34.9" style="position:absolute;left:-2.5px;top:-2.5px"><ellipse cx="77.1" cy="17.5" rx="11.8" ry="11.8" fill="#86cc10"/><ellipse cx="77.1" cy="16.0" rx="8.9" ry="8.3" fill="#a2de3a" opacity=".7"/><path d="M77.1 12.0v9m-4 -4l4 4.5l4 -4.5" stroke="#dcf0b8" stroke-width="1.8" fill="none" opacity=".8"/></svg></div><div class="l" style="left:931.5px;top:1700.5px;width:200.0px;height:26.0px;line-height:26px;text-align:center;">CH3</div><div class="d" style="left:983.2px;top:1734.8px;width:96.6px;height:34.9px;line-height:29.9px;"><span>Link 3</span><svg width="96.6" height="34.9" style="position:absolute;left:-2.5px;top:-2.5px"><ellipse cx="77.1" cy="17.5" rx="11.8" ry="11.8" fill="#86cc10"/><ellipse cx="77.1" cy="16.0" rx="8.9" ry="8.3" fill="#a2de3a" opacity=".7"/><path d="M77.1 12.0v9m-4 -4l4 4.5l4 -4.5" stroke="#dcf0b8" stroke-width="1.8" fill="none" opacity=".8"/></svg></div><div class="l" style="left:1064.5px;top:1700.5px;width:200.0px;height:26.0px;line-height:26px;text-align:center;">CH4</div><div class="d" style="left:1116.2px;top:1734.8px;width:96.6px;height:34.9px;line-height:29.9px;"><span>Link 4</span><svg width="96.6" height="34.9" style="position:absolute;left:-2.5px;top:-2.5px"><ellipse cx="77.1" cy="17.5" rx="11.8" ry="11.8" fill="#86cc10"/><ellipse cx="77.1" cy="16.0" rx="8.9" ry="8.3" fill="#a2de3a" opacity=".7"/><path d="M77.1 12.0v9m-4 -4l4 4.5l4 -4.5" stroke="#dcf0b8" stroke-width="1.8" fill="none" opacity=".8"/></svg></div><div class="l" style="left:1196.0px;top:1700.5px;width:200.0px;height:26.0px;line-height:26px;text-align:center;">CH5</div><div class="d" style="left:1247.7px;top:1734.8px;width:96.6px;height:34.9px;line-height:29.9px;"><span>Link 5</span><svg width="96.6" height="34.9" style="position:absolute;left:-2.5px;top:-2.5px"><ellipse cx="77.1" cy="17.5" rx="11.8" ry="11.8" fill="#86cc10"/><ellipse cx="77.1" cy="16.0" rx="8.9" ry="8.3" fill="#a2de3a" opacity=".7"/><path d="M77.1 12.0v9m-4 -4l4 4.5l4 -4.5" stroke="#dcf0b8" stroke-width="1.8" fill="none" opacity=".8"/></svg></div><div class="l" style="left:1328.0px;top:1700.5px;width:200.0px;height:26.0px;line-height:26px;text-align:center;">CH6</div><div class="d" style="left:1379.7px;top:1734.8px;width:96.6px;height:34.9px;line-height:29.9px;"><span>Link 6</span><svg width="96.6" height="34.9" style="position:absolute;left:-2.5px;top:-2.5px"><ellipse cx="77.1" cy="17.5" rx="11.8" ry="11.8" fill="#86cc10"/><ellipse cx="77.1" cy="16.0" rx="8.9" ry="8.3" fill="#a2de3a" opacity=".7"/><path d="M77.1 12.0v9m-4 -4l4 4.5l4 -4.5" stroke="#dcf0b8" stroke-width="1.8" fill="none" opacity=".8"/></svg></div><div class="l" style="left:1459.5px;top:1700.5px;width:200.0px;height:26.0px;line-height:26px;text-align:center;">CH7</div><div class="d" style="left:1511.2px;top:1734.8px;width:96.6px;height:34.9px;line-height:29.9px;"><span>Link 7</span><svg width="96.6" height="34.9" style="position:absolute;left:-2.5px;top:-2.5px"><ellipse cx="77.1" cy="17.5" rx="11.8" ry="11.8" fill="#86cc10"/><ellipse cx="77.1" cy="16.0" rx="8.9" ry="8.3" fill="#a2de3a" opacity=".7"/><path d="M77.1 12.0v9m-4 -4l4 4.5l4 -4.5" stroke="#dcf0b8" stroke-width="1.8" fill="none" opacity=".8"/></svg></div><div class="l" style="left:1593.0px;top:1700.5px;width:200.0px;height:26.0px;line-height:26px;text-align:center;">CH8</div><div class="d" style="left:1644.7px;top:1734.8px;width:96.6px;height:34.9px;line-height:29.9px;"><span>Link 8</span><svg width="96.6" height="34.9" style="position:absolute;left:-2.5px;top:-2.5px"><ellipse cx="77.1" cy="17.5" rx="11.8" ry="11.8" fill="#86cc10"/><ellipse cx="77.1" cy="16.0" rx="8.9" ry="8.3" fill="#a2de3a" opacity=".7"/><path d="M77.1 12.0v9m-4 -4l4 4.5l4 -4.5" stroke="#dcf0b8" stroke-width="1.8" fill="none" opacity=".8"/></svg></div>
</div>
<div class="w">
<div style="left:1812.2px;top:670.8px;width:1653.4px;height:1136.8px;background:#dcdad4;border-radius:0 8px 0 0;"></div><div style="left:3440.0px;top:720.0px;width:16.0px;height:1073.6px;background:linear-gradient(90deg,#dbdad4,#efeeea 40%,#f3f2ef);"></div><div style="left:3456.0px;top:720.0px;width:9.6px;height:1087.6px;background:linear-gradient(90deg,#d2d0d0,#bcbabc 60%,#4a4648 92%,#2a2628);"></div><div style="left:1812.2px;top:1794.0px;width:1653.4px;height:13.6px;background:linear-gradient(180deg,#e6e4e2 0%,#e0dedc 25%,#c4c0c0 55%,#9e9a9e 82%,#6a666c 100%);"></div><div style="left:1812.2px;top:720.0px;width:14.5px;height:1085.6px;background:linear-gradient(90deg,#9a9698 0%,#9e9a9c 24%,#eceaec 30%,#e6e4e6 40%,#9e9692 48%,#a8a29a 70%,#b6b2a4 82%,#d6d4cc 100%);"></div><div style="left:1812.2px;top:670.8px;width:1653.4px;height:49.5px;border-radius:0 9px 0 0;background:linear-gradient(180deg,#8a8486 0%,#aaa4a6 8%,#bab4b6 16%,#c2bebe 22%,#c2bebe 80%,#9c9698 86%,#8e888c 94%,#a09a9c 100%);"></div><div style="left:1820.2px;top:679.8px;width:17.0px;height:34.0px;background:#aeaaaa;"></div><div style="left:1825.7px;top:684.8px;width:5.0px;height:4.5px;background:#e6e4e4;border-radius:1px;"></div><div style="left:1825.7px;top:693.0px;width:5.0px;height:4.5px;background:#e6e4e4;border-radius:1px;"></div><div style="left:1825.7px;top:701.2px;width:5.0px;height:4.5px;background:#e6e4e4;border-radius:1px;"></div><div style="left:1825.7px;top:709.4px;width:5.0px;height:4.5px;background:#e6e4e4;border-radius:1px;"></div><div style="left:1839.2px;top:679.8px;width:1489.3px;height:32.5px;background:linear-gradient(180deg,#c0bcbc 0%,#cbc8c8 25%,#dddcdb 60%,#f1f1ef 90%,#f4f4f2 100%);border-radius:7px 0 0 2px;"></div><div class="l tt" style="left:1851.2px;top:682.8px;width:300.0px;height:26.0px;line-height:26px;text-align:left;">DSP-4800 - [NewProgram]</div><div style="left:3326.5px;top:673.8px;width:139.1px;height:43.5px;background:#8c8890;border-radius:24px 0 0 24px;"></div><div style="left:3345.5px;top:672.8px;width:120.1px;height:46.5px;border-radius:24px 9px 0 24px;background:linear-gradient(180deg,#bcbac2,#d6d4dc 40%,#dcdae0 80%,#cac8ce);"></div><div style="left:3386.1px;top:678.5px;width:25.0px;height:25.0px;border-radius:50%;background:radial-gradient(circle at 45% 40%,#7a9ac2,#6486b0 70%,#7e94b4);"></div><div style="left:3363.1px;top:687.6px;width:22.0px;height:23.0px;border-radius:50%;background:radial-gradient(circle at 50% 60%,#f6a070,#e96c34 60%,#e27848);"></div><div style="left:3411.6px;top:679.8px;width:34.0px;height:34.0px;border-radius:50%;background:radial-gradient(circle at 50% 45%,#98dc20,#84cc0c 70%,#8ccc2c);"></div><svg class="g" style="left:3411.6px;top:679.8px" width="34" height="34"><path d="M12.5 13l9 9m0-9l-9 9" stroke="#d4eea4" stroke-width="2.2" fill="none" stroke-linecap="round"/></svg><svg class="g" style="left:3363.1px;top:687.8px" width="22" height="23"><path d="M11 6v10m-3.5-3.5l3.5 4l3.5-4" stroke="#fbd8c0" stroke-width="2.2" fill="none"/></svg><div style="left:1826.7px;top:720.0px;width:1629.3px;height:7.5px;background:linear-gradient(180deg,#b8b3ae,#d2d0ca);"></div>
<div class="k" style="transform:matrix(0.9949,0,0,0.9975,1684.9,1.0)">
<div class="b" style="left:153.5px;top:737.0px;width:134.8px;height:34.5px;line-height:34.5px;">Data View</div><div class="b" style="left:337.0px;top:737.0px;width:113.0px;height:34.5px;line-height:34.5px;">Program</div><div class="b" style="left:501.0px;top:737.0px;width:112.0px;height:34.5px;line-height:34.5px;">Ch Setup</div><div class="b" style="left:664.0px;top:737.0px;width:113.0px;height:34.5px;line-height:34.5px;">Copy</div><div class="b" style="left:826.0px;top:737.0px;width:113.0px;height:34.5px;line-height:34.5px;">System</div><div style="left:1210.0px;top:732.5px;width:366.0px;height:41.0px;background:#f1e9d8;border:3px solid #8e867f;box-sizing:border-box;"></div><div class="b" style="left:1586.0px;top:738.0px;width:152.0px;height:32.5px;line-height:32.5px;">Connection</div><div style="left:153.8px;top:779.8px;width:1614.7px;height:374.6px;background:linear-gradient(135deg,#c6c3bc 0%,#d2d0c9 46%,#f2f2ee 54%,#f6f6f2 100%);"></div><svg class="g" style="left:158.8px;top:784.8px" width="1604.7" height="364.6" viewBox="158.8 784.8 1604.7 364.6"><rect x="158.8" y="784.8" width="1604.7" height="364.6" fill="#06060e"/><path d="M214.5 801.6V1118.2M302.5 801.6V1118.2M366.0 801.6V1118.2M416.7 801.6V1118.2M456.7 801.6V1118.2M491.0 801.6V1118.2M520.7 801.6V1118.2M547.4 801.6V1118.2M571.8 801.6V1118.2M725.1 801.6V1118.2M813.1 801.6V1118.2M876.6 801.6V1118.2M927.3 801.6V1118.2M967.3 801.6V1118.2M1001.6 801.6V1118.2M1031.3 801.6V1118.2M1058.0 801.6V1118.2M1082.4 801.6V1118.2M1235.7 801.6V1118.2M1323.7 801.6V1118.2M1387.2 801.6V1118.2M1437.9 801.6V1118.2M1477.9 801.6V1118.2M1512.2 801.6V1118.2M1541.9 801.6V1118.2M1568.6 801.6V1118.2M1593.0 801.6V1118.2M1748.0 801.6V1118.2M214.5 801.6H1748.0M214.5 826.5H1748.0M214.5 853.5H1748.0M214.5 879.0H1748.0M214.5 907.2H1748.0M214.5 932.9H1748.0M214.5 959.3H1748.0M214.5 985.8H1748.0M214.5 1012.0H1748.0M214.5 1038.8H1748.0M214.5 1065.7H1748.0M214.5 1092.6H1748.0M214.5 1118.2H1748.0" stroke="#9a928a" stroke-width="2.1" fill="none"/><path d="M214.5 907.3H1748.0" stroke="#e8642a" stroke-width="4.4"/><text transform="translate(168 813.4) scale(1 1.2)" textLength="36" lengthAdjust="spacingAndGlyphs" class="gt">+20</text><text transform="translate(168 861.4) scale(1 1.2)" textLength="36" lengthAdjust="spacingAndGlyphs" class="gt">+10</text><text transform="translate(168 913.1) scale(1 1.2)" textLength="39.5" lengthAdjust="spacingAndGlyphs" class="gt">0dB</text><text transform="translate(168 967.6) scale(1 1.2)" textLength="30" lengthAdjust="spacingAndGlyphs" class="gt">-10</text><text transform="translate(168 1024.9) scale(1 1.2)" textLength="30" lengthAdjust="spacingAndGlyphs" class="gt">-20</text><text transform="translate(168 1076.0) scale(1 1.2)" textLength="30" lengthAdjust="spacingAndGlyphs" class="gt">-30</text><text transform="translate(168 1123.9) scale(1 1.2)" textLength="30" lengthAdjust="spacingAndGlyphs" class="gt">-40</text><text transform="translate(205.5 1141.3) scale(1.03 1.2)" class="gt">20</text><text transform="translate(411.5 1141.3) scale(1.03 1.2)" class="gt">50</text><text transform="translate(557.4 1141.3) scale(1.03 1.2)" class="gt">100</text><text transform="translate(714 1141.3) scale(1.03 1.2)" class="gt">200</text><text transform="translate(955 1141.3) scale(1.03 1.2)" class="gt">500</text><text transform="translate(1076.4 1141.3) scale(1.03 1.2)" class="gt">1K</text><text transform="translate(1219.4 1141.3) scale(1.03 1.2)" class="gt">2K</text><text transform="translate(1436.6 1141.3) scale(1.03 1.2)" class="gt">5K</text><text transform="translate(1582.2 1141.3) scale(1.03 1.2)" class="gt">10K</text><text transform="translate(1716.5 1141.3) scale(1.03 1.2)" class="gt">20K</text></svg><div class="c" style="left:155.0px;top:1159.6px;width:72.5px;height:32.4px;background:#e93218;line-height:25.5px;">CHA</div><div class="c" style="left:264.1px;top:1159.6px;width:73.4px;height:32.4px;background:#a320c4;line-height:25.5px;">CHB</div><div class="c" style="left:374.3px;top:1159.6px;width:75.2px;height:32.4px;background:#74cc04;line-height:25.5px;">CHC</div><div class="c" style="left:482.5px;top:1159.6px;width:75.5px;height:32.4px;background:#52c8e0;line-height:25.5px;">CHD</div><div class="c" style="left:891.1px;top:1159.6px;width:75.2px;height:32.4px;background:#2862ba;line-height:25.5px;">CH1</div><div class="c" style="left:1003.5px;top:1159.6px;width:75.0px;height:32.4px;background:#bc4ccc;line-height:25.5px;">CH2</div><div class="c" style="left:1116.2px;top:1159.6px;width:75.3px;height:32.4px;background:#22c022;line-height:25.5px;">CH3</div><div class="c" style="left:1228.0px;top:1159.6px;width:76.0px;height:32.4px;background:#ff7482;line-height:25.5px;">CH4</div><div class="c" style="left:1340.5px;top:1159.6px;width:76.0px;height:32.4px;background:#a4e4f2;line-height:25.5px;">CH5</div><div class="c" style="left:1453.1px;top:1159.6px;width:75.4px;height:32.4px;background:#e8641c;line-height:25.5px;">CH6</div><div class="c" style="left:1565.3px;top:1159.6px;width:75.2px;height:32.4px;background:#f274c2;line-height:25.5px;">CH7</div><div class="c" style="left:1679.0px;top:1159.6px;width:74.1px;height:32.4px;background:#ff7424;line-height:25.5px;">CH8</div><div class="l" style="left:150.5px;top:1206.2px;width:300.0px;height:26.0px;line-height:26px;text-align:left;">CHA</div><div class="n" style="left:207.4px;top:1208.1px;width:132.0px;height:25.0px;line-height:25.5px;">Box_A</div><div class="m" style="left:346.3px;top:1208.8px;width:116.4px;height:22.4px;"><i></i></div><div class="b mu" style="left:471.0px;top:1206.9px;width:64.0px;height:26.0px;line-height:26.0px;">Mute</div><div class="b" style="left:541.8px;top:1206.9px;width:63.8px;height:26.0px;line-height:26.0px;">Gain</div><div class="b" style="left:612.4px;top:1206.9px;width:65.1px;height:26.0px;line-height:26.0px;">POL+</div><div class="b" style="left:684.0px;top:1206.9px;width:63.8px;height:26.0px;line-height:26.0px;">Delay</div><div class="b" style="left:754.5px;top:1206.9px;width:64.5px;height:26.0px;line-height:26.0px;">EQ</div><div class="b" style="left:430.8px;top:1250.7px;width:139.7px;height:27.7px;line-height:27.7px;">Noisegate</div><div class="l" style="left:150.5px;top:1304.3px;width:300.0px;height:26.0px;line-height:26px;text-align:left;">CHB</div><div class="n" style="left:207.4px;top:1306.2px;width:132.0px;height:25.0px;line-height:25.5px;">Box_B</div><div class="m" style="left:346.3px;top:1306.9px;width:116.4px;height:22.4px;"><i></i></div><div class="b mu" style="left:471.0px;top:1305.0px;width:64.0px;height:26.0px;line-height:26.0px;">Mute</div><div class="b" style="left:541.8px;top:1305.0px;width:63.8px;height:26.0px;line-height:26.0px;">Gain</div><div class="b" style="left:612.4px;top:1305.0px;width:65.1px;height:26.0px;line-height:26.0px;">POL+</div><div class="b" style="left:684.0px;top:1305.0px;width:63.8px;height:26.0px;line-height:26.0px;">Delay</div><div class="b" style="left:754.5px;top:1305.0px;width:64.5px;height:26.0px;line-height:26.0px;">EQ</div><div class="b" style="left:430.8px;top:1348.8px;width:139.7px;height:27.7px;line-height:27.7px;">Noisegate</div><div class="l" style="left:150.5px;top:1400.7px;width:300.0px;height:26.0px;line-height:26px;text-align:left;">CHC</div><div class="n" style="left:207.4px;top:1402.6px;width:132.0px;height:25.0px;line-height:25.5px;">Box_C</div><div class="m" style="left:346.3px;top:1403.3px;width:116.4px;height:22.4px;"><i></i></div><div class="b mu" style="left:471.0px;top:1401.4px;width:64.0px;height:26.0px;line-height:26.0px;">Mute</div><div class="b" style="left:541.8px;top:1401.4px;width:63.8px;height:26.0px;line-height:26.0px;">Gain</div><div class="b" style="left:612.4px;top:1401.4px;width:65.1px;height:26.0px;line-height:26.0px;">POL+</div><div class="b" style="left:684.0px;top:1401.4px;width:63.8px;height:26.0px;line-height:26.0px;">Delay</div><div class="b" style="left:754.5px;top:1401.4px;width:64.5px;height:26.0px;line-height:26.0px;">EQ</div><div class="b" style="left:430.8px;top:1445.2px;width:139.7px;height:27.7px;line-height:27.7px;">Noisegate</div><div class="l" style="left:150.5px;top:1496.8px;width:300.0px;height:26.0px;line-height:26px;text-align:left;">CHD</div><div class="n" style="left:207.4px;top:1498.7px;width:132.0px;height:25.0px;line-height:25.5px;">Box_D</div><div class="m" style="left:346.3px;top:1499.4px;width:116.4px;height:22.4px;"><i></i></div><div class="b mu" style="left:471.0px;top:1497.5px;width:64.0px;height:26.0px;line-height:26.0px;">Mute</div><div class="b" style="left:541.8px;top:1497.5px;width:63.8px;height:26.0px;line-height:26.0px;">Gain</div><div class="b" style="left:612.4px;top:1497.5px;width:65.1px;height:26.0px;line-height:26.0px;">POL+</div><div class="b" style="left:684.0px;top:1497.5px;width:63.8px;height:26.0px;line-height:26.0px;">Delay</div><div class="b" style="left:754.5px;top:1497.5px;width:64.5px;height:26.0px;line-height:26.0px;">EQ</div><div class="b" style="left:430.8px;top:1541.3px;width:139.7px;height:27.7px;line-height:27.7px;">Noisegate</div><div class="l" style="left:150.5px;top:1588.0px;width:300.0px;height:26.0px;line-height:26px;text-align:left;">CHA&amp;B Mode_Sel</div><div class="d" style="left:329.0px;top:1582.5px;width:101.0px;height:35.3px;line-height:30.3px;"><span>Analog</span><svg width="101.0" height="35.3" style="position:absolute;left:-2.5px;top:-2.5px"><ellipse cx="81.5" cy="17.6" rx="9.440000000000001" ry="11.8" fill="#86cc10"/><ellipse cx="81.5" cy="16.1" rx="7.1" ry="8.3" fill="#a2de3a" opacity=".7"/><path d="M81.5 12.1v9m-4 -4l4 4.5l4 -4.5" stroke="#dcf0b8" stroke-width="1.8" fill="none" opacity=".8"/></svg></div><div class="l" style="left:461.0px;top:1588.0px;width:300.0px;height:26.0px;line-height:26px;text-align:left;">CHC&amp;D Mode_Sel</div><div class="d" style="left:645.0px;top:1582.5px;width:100.8px;height:35.3px;line-height:30.3px;"><span>Analog</span><svg width="100.8" height="35.3" style="position:absolute;left:-2.5px;top:-2.5px"><ellipse cx="81.3" cy="17.6" rx="9.440000000000001" ry="11.8" fill="#86cc10"/><ellipse cx="81.3" cy="16.1" rx="7.1" ry="8.3" fill="#a2de3a" opacity=".7"/><path d="M81.3 12.1v9m-4 -4l4 4.5l4 -4.5" stroke="#dcf0b8" stroke-width="1.8" fill="none" opacity=".8"/></svg></div><div class="b" style="left:891.6px;top:1206.7px;width:65.2px;height:26.2px;line-height:26.2px;">Source</div><div class="b" style="left:966.6px;top:1206.7px;width:62.4px;height:26.2px;line-height:26.2px;">Gain</div><div class="b" style="left:1037.0px;top:1206.7px;width:62.7px;height:26.2px;line-height:26.2px;">POL+</div><div class="b" style="left:1106.8px;top:1206.7px;width:63.2px;height:26.2px;line-height:26.2px;">Delay</div><div class="b" style="left:1178.0px;top:1206.7px;width:61.5px;height:26.2px;line-height:26.2px;">EQ</div><div class="b" style="left:1247.0px;top:1206.7px;width:63.0px;height:26.2px;line-height:26.2px;">Xover</div><div class="b" style="left:1318.0px;top:1206.7px;width:62.5px;height:26.2px;line-height:26.2px;">Limit</div><div class="b mu" style="left:1389.0px;top:1206.7px;width:62.0px;height:26.2px;line-height:26.2px;">Mute</div><div class="m" style="left:1459.3px;top:1209.0px;width:116.4px;height:22.2px;"><i></i></div><div class="n" style="left:1584.7px;top:1208.5px;width:130.8px;height:24.6px;line-height:25.5px;">Box_1</div><div class="l" style="left:1723.0px;top:1207.7px;width:300.0px;height:26.0px;line-height:26px;text-align:left;">CH1</div><div class="b" style="left:891.6px;top:1266.8px;width:65.2px;height:26.2px;line-height:26.2px;">Source</div><div class="b" style="left:966.6px;top:1266.8px;width:62.4px;height:26.2px;line-height:26.2px;">Gain</div><div class="b" style="left:1037.0px;top:1266.8px;width:62.7px;height:26.2px;line-height:26.2px;">POL+</div><div class="b" style="left:1106.8px;top:1266.8px;width:63.2px;height:26.2px;line-height:26.2px;">Delay</div><div class="b" style="left:1178.0px;top:1266.8px;width:61.5px;height:26.2px;line-height:26.2px;">EQ</div><div class="b" style="left:1247.0px;top:1266.8px;width:63.0px;height:26.2px;line-height:26.2px;">Xover</div><div class="b" style="left:1318.0px;top:1266.8px;width:62.5px;height:26.2px;line-height:26.2px;">Limit</div><div class="b mu" style="left:1389.0px;top:1266.8px;width:62.0px;height:26.2px;line-height:26.2px;">Mute</div><div class="m" style="left:1459.3px;top:1269.0px;width:116.4px;height:22.2px;"><i></i></div><div class="n" style="left:1584.7px;top:1268.5px;width:130.8px;height:24.6px;line-height:25.5px;">Box_2</div><div class="l" style="left:1723.0px;top:1267.8px;width:300.0px;height:26.0px;line-height:26px;text-align:left;">CH2</div><div class="b" style="left:891.6px;top:1326.8px;width:65.2px;height:26.2px;line-height:26.2px;">Source</div><div class="b" style="left:966.6px;top:1326.8px;width:62.4px;height:26.2px;line-height:26.2px;">Gain</div><div class="b" style="left:1037.0px;top:1326.8px;width:62.7px;height:26.2px;line-height:26.2px;">POL+</div><div class="b" style="left:1106.8px;top:1326.8px;width:63.2px;height:26.2px;line-height:26.2px;">Delay</div><div class="b" style="left:1178.0px;top:1326.8px;width:61.5px;height:26.2px;line-height:26.2px;">EQ</div><div class="b" style="left:1247.0px;top:1326.8px;width:63.0px;height:26.2px;line-height:26.2px;">Xover</div><div class="b" style="left:1318.0px;top:1326.8px;width:62.5px;height:26.2px;line-height:26.2px;">Limit</div><div class="b mu" style="left:1389.0px;top:1326.8px;width:62.0px;height:26.2px;line-height:26.2px;">Mute</div><div class="m" style="left:1459.3px;top:1329.1px;width:116.4px;height:22.2px;"><i></i></div><div class="n" style="left:1584.7px;top:1328.6px;width:130.8px;height:24.6px;line-height:25.5px;">Box_3</div><div class="l" style="left:1723.0px;top:1327.8px;width:300.0px;height:26.0px;line-height:26px;text-align:left;">CH3</div><div class="b" style="left:891.6px;top:1386.8px;width:65.2px;height:26.2px;line-height:26.2px;">Source</div><div class="b" style="left:966.6px;top:1386.8px;width:62.4px;height:26.2px;line-height:26.2px;">Gain</div><div class="b" style="left:1037.0px;top:1386.8px;width:62.7px;height:26.2px;line-height:26.2px;">POL+</div><div class="b" style="left:1106.8px;top:1386.8px;width:63.2px;height:26.2px;line-height:26.2px;">Delay</div><div class="b" style="left:1178.0px;top:1386.8px;width:61.5px;height:26.2px;line-height:26.2px;">EQ</div><div class="b" style="left:1247.0px;top:1386.8px;width:63.0px;height:26.2px;line-height:26.2px;">Xover</div><div class="b" style="left:1318.0px;top:1386.8px;width:62.5px;height:26.2px;line-height:26.2px;">Limit</div><div class="b mu" style="left:1389.0px;top:1386.8px;width:62.0px;height:26.2px;line-height:26.2px;">Mute</div><div class="m" style="left:1459.3px;top:1389.1px;width:116.4px;height:22.2px;"><i></i></div><div class="n" style="left:1584.7px;top:1388.6px;width:130.8px;height:24.6px;line-height:25.5px;">Box_4</div><div class="l" style="left:1723.0px;top:1387.8px;width:300.0px;height:26.0px;line-height:26px;text-align:left;">CH4</div><div class="b" style="left:891.6px;top:1446.9px;width:65.2px;height:26.2px;line-height:26.2px;">Source</div><div class="b" style="left:966.6px;top:1446.9px;width:62.4px;height:26.2px;line-height:26.2px;">Gain</div><div class="b" style="left:1037.0px;top:1446.9px;width:62.7px;height:26.2px;line-height:26.2px;">POL+</div><div class="b" style="left:1106.8px;top:1446.9px;width:63.2px;height:26.2px;line-height:26.2px;">Delay</div><div class="b" style="left:1178.0px;top:1446.9px;width:61.5px;height:26.2px;line-height:26.2px;">EQ</div><div class="b" style="left:1247.0px;top:1446.9px;width:63.0px;height:26.2px;line-height:26.2px;">Xover</div><div class="b" style="left:1318.0px;top:1446.9px;width:62.5px;height:26.2px;line-height:26.2px;">Limit</div><div class="b mu" style="left:1389.0px;top:1446.9px;width:62.0px;height:26.2px;line-height:26.2px;">Mute</div><div class="m" style="left:1459.3px;top:1449.2px;width:116.4px;height:22.2px;"><i></i></div><div class="n" style="left:1584.7px;top:1448.7px;width:130.8px;height:24.6px;line-height:25.5px;">Box_5</div><div class="l" style="left:1723.0px;top:1447.9px;width:300.0px;height:26.0px;line-height:26px;text-align:left;">CH5</div><div class="b" style="left:891.6px;top:1507.0px;width:65.2px;height:26.2px;line-height:26.2px;">Source</div><div class="b" style="left:966.6px;top:1507.0px;width:62.4px;height:26.2px;line-height:26.2px;">Gain</div><div class="b" style="left:1037.0px;top:1507.0px;width:62.7px;height:26.2px;line-height:26.2px;">POL+</div><div class="b" style="left:1106.8px;top:1507.0px;width:63.2px;height:26.2px;line-height:26.2px;">Delay</div><div class="b" style="left:1178.0px;top:1507.0px;width:61.5px;height:26.2px;line-height:26.2px;">EQ</div><div class="b" style="left:1247.0px;top:1507.0px;width:63.0px;height:26.2px;line-height:26.2px;">Xover</div><div class="b" style="left:1318.0px;top:1507.0px;width:62.5px;height:26.2px;line-height:26.2px;">Limit</div><div class="b mu" style="left:1389.0px;top:1507.0px;width:62.0px;height:26.2px;line-height:26.2px;">Mute</div><div class="m" style="left:1459.3px;top:1509.2px;width:116.4px;height:22.2px;"><i></i></div><div class="n" style="left:1584.7px;top:1508.8px;width:130.8px;height:24.6px;line-height:25.5px;">Box_6</div><div class="l" style="left:1723.0px;top:1508.0px;width:300.0px;height:26.0px;line-height:26px;text-align:left;">CH6</div><div class="b" style="left:891.6px;top:1567.0px;width:65.2px;height:26.2px;line-height:26.2px;">Source</div><div class="b" style="left:966.6px;top:1567.0px;width:62.4px;height:26.2px;line-height:26.2px;">Gain</div><div class="b" style="left:1037.0px;top:1567.0px;width:62.7px;height:26.2px;line-height:26.2px;">POL+</div><div class="b" style="left:1106.8px;top:1567.0px;width:63.2px;height:26.2px;line-height:26.2px;">Delay</div><div class="b" style="left:1178.0px;top:1567.0px;width:61.5px;height:26.2px;line-height:26.2px;">EQ</div><div class="b" style="left:1247.0px;top:1567.0px;width:63.0px;height:26.2px;line-height:26.2px;">Xover</div><div class="b" style="left:1318.0px;top:1567.0px;width:62.5px;height:26.2px;line-height:26.2px;">Limit</div><div class="b mu" style="left:1389.0px;top:1567.0px;width:62.0px;height:26.2px;line-height:26.2px;">Mute</div><div class="m" style="left:1459.3px;top:1569.3px;width:116.4px;height:22.2px;"><i></i></div><div class="n" style="left:1584.7px;top:1568.8px;width:130.8px;height:24.6px;line-height:25.5px;">Box_7</div><div class="l" style="left:1723.0px;top:1568.0px;width:300.0px;height:26.0px;line-height:26px;text-align:left;">CH7</div><div class="b" style="left:891.6px;top:1627.0px;width:65.2px;height:26.2px;line-height:26.2px;">Source</div><div class="b" style="left:966.6px;top:1627.0px;width:62.4px;height:26.2px;line-height:26.2px;">Gain</div><div class="b" style="left:1037.0px;top:1627.0px;width:62.7px;height:26.2px;line-height:26.2px;">POL+</div><div class="b" style="left:1106.8px;top:1627.0px;width:63.2px;height:26.2px;line-height:26.2px;">Delay</div><div class="b" style="left:1178.0px;top:1627.0px;width:61.5px;height:26.2px;line-height:26.2px;">EQ</div><div class="b" style="left:1247.0px;top:1627.0px;width:63.0px;height:26.2px;line-height:26.2px;">Xover</div><div class="b" style="left:1318.0px;top:1627.0px;width:62.5px;height:26.2px;line-height:26.2px;">Limit</div><div class="b mu" style="left:1389.0px;top:1627.0px;width:62.0px;height:26.2px;line-height:26.2px;">Mute</div><div class="m" style="left:1459.3px;top:1629.3px;width:116.4px;height:22.2px;"><i></i></div><div class="n" style="left:1584.7px;top:1628.8px;width:130.8px;height:24.6px;line-height:25.5px;">Box_8</div><div class="l" style="left:1723.0px;top:1628.0px;width:300.0px;height:26.0px;line-height:26px;text-align:left;">CH8</div><svg class="g" style="left:800px;top:1190px" width="110" height="480" viewBox="800 1190 110 480"><path d="M820.5 1219.7L888 1218.7" stroke="#f2401c" stroke-width="3"/><path d="M820.5 1219.7L888 1278.8" stroke="#f2401c" stroke-width="3"/><path d="M820.5 1219.7L888 1338.8" stroke="#f2401c" stroke-width="3"/><path d="M820.5 1219.7L888 1398.8" stroke="#f2401c" stroke-width="3"/><path d="M820.5 1219.7L888 1458.9" stroke="#f2401c" stroke-width="3"/><path d="M820.5 1219.7L888 1519.0" stroke="#f2401c" stroke-width="3"/><path d="M820.5 1219.7L888 1579.0" stroke="#f2401c" stroke-width="3"/><path d="M820.5 1219.7L888 1639.0" stroke="#f2401c" stroke-width="3"/></svg><div style="left:149.5px;top:1673.8px;width:1614.5px;height:109.7px;border:2px solid #c9c6bf;box-shadow:inset 2px 2px 0 #efeeea, 2px 2px 0 #efeeea;box-sizing:border-box;border-radius:3px;"></div><div style="left:925.0px;top:1662.0px;width:66.0px;height:28.0px;background:#dcdad4;"></div><div class="l lk" style="left:858.0px;top:1664.0px;width:200.0px;height:26.0px;line-height:26px;text-align:center;">Link</div><div class="l" style="left:120.5px;top:1700.5px;width:200.0px;height:26.0px;line-height:26px;text-align:center;">CHA</div><div class="d" style="left:172.2px;top:1734.8px;width:96.6px;height:34.9px;line-height:29.9px;"><span>Link A</span><svg width="96.6" height="34.9" style="position:absolute;left:-2.5px;top:-2.5px"><ellipse cx="77.1" cy="17.5" rx="9.440000000000001" ry="11.8" fill="#86cc10"/><ellipse cx="77.1" cy="16.0" rx="7.1" ry="8.3" fill="#a2de3a" opacity=".7"/><path d="M77.1 12.0v9m-4 -4l4 4.5l4 -4.5" stroke="#dcf0b8" stroke-width="1.8" fill="none" opacity=".8"/></svg></div><div class="l" style="left:252.0px;top:1700.5px;width:200.0px;height:26.0px;line-height:26px;text-align:center;">CHB</div><div class="d" style="left:303.7px;top:1734.8px;width:96.6px;height:34.9px;line-height:29.9px;"><span>Link B</span><svg width="96.6" height="34.9" style="position:absolute;left:-2.5px;top:-2.5px"><ellipse cx="77.1" cy="17.5" rx="9.440000000000001" ry="11.8" fill="#86cc10"/><ellipse cx="77.1" cy="16.0" rx="7.1" ry="8.3" fill="#a2de3a" opacity=".7"/><path d="M77.1 12.0v9m-4 -4l4 4.5l4 -4.5" stroke="#dcf0b8" stroke-width="1.8" fill="none" opacity=".8"/></svg></div><div class="l" style="left:383.5px;top:1700.5px;width:200.0px;height:26.0px;line-height:26px;text-align:center;">CHC</div><div class="d" style="left:435.2px;top:1734.8px;width:96.6px;height:34.9px;line-height:29.9px;"><span>Link C</span><svg width="96.6" height="34.9" style="position:absolute;left:-2.5px;top:-2.5px"><ellipse cx="77.1" cy="17.5" rx="9.440000000000001" ry="11.8" fill="#86cc10"/><ellipse cx="77.1" cy="16.0" rx="7.1" ry="8.3" fill="#a2de3a" opacity=".7"/><path d="M77.1 12.0v9m-4 -4l4 4.5l4 -4.5" stroke="#dcf0b8" stroke-width="1.8" fill="none" opacity=".8"/></svg></div><div class="l" style="left:515.5px;top:1700.5px;width:200.0px;height:26.0px;line-height:26px;text-align:center;">CHD</div><div class="d" style="left:567.2px;top:1734.8px;width:96.6px;height:34.9px;line-height:29.9px;"><span>Link D</span><svg width="96.6" height="34.9" style="position:absolute;left:-2.5px;top:-2.5px"><ellipse cx="77.1" cy="17.5" rx="9.440000000000001" ry="11.8" fill="#86cc10"/><ellipse cx="77.1" cy="16.0" rx="7.1" ry="8.3" fill="#a2de3a" opacity=".7"/><path d="M77.1 12.0v9m-4 -4l4 4.5l4 -4.5" stroke="#dcf0b8" stroke-width="1.8" fill="none" opacity=".8"/></svg></div><div class="l" style="left:668.0px;top:1700.5px;width:200.0px;height:26.0px;line-height:26px;text-align:center;">CH1</div><div class="d" style="left:719.7px;top:1734.8px;width:96.6px;height:34.9px;line-height:29.9px;"><span>Link 1</span><svg width="96.6" height="34.9" style="position:absolute;left:-2.5px;top:-2.5px"><ellipse cx="77.1" cy="17.5" rx="9.440000000000001" ry="11.8" fill="#86cc10"/><ellipse cx="77.1" cy="16.0" rx="7.1" ry="8.3" fill="#a2de3a" opacity=".7"/><path d="M77.1 12.0v9m-4 -4l4 4.5l4 -4.5" stroke="#dcf0b8" stroke-width="1.8" fill="none" opacity=".8"/></svg></div><div class="l" style="left:799.5px;top:1700.5px;width:200.0px;height:26.0px;line-height:26px;text-align:center;">CH2</div><div class="d" style="left:851.2px;top:1734.8px;width:96.6px;height:34.9px;line-height:29.9px;"><span>Link 2</span><svg width="96.6" height="34.9" style="position:absolute;left:-2.5px;top:-2.5px"><ellipse cx="77.1" cy="17.5" rx="9.440000000000001" ry="11.8" fill="#86cc10"/><ellipse cx="77.1" cy="16.0" rx="7.1" ry="8.3" fill="#a2de3a" opacity=".7"/><path d="M77.1 12.0v9m-4 -4l4 4.5l4 -4.5" stroke="#dcf0b8" stroke-width="1.8" fill="none" opacity=".8"/></svg></div><div class="l" style="left:931.5px;top:1700.5px;width:200.0px;height:26.0px;line-height:26px;text-align:center;">CH3</div><div class="d" style="left:983.2px;top:1734.8px;width:96.6px;height:34.9px;line-height:29.9px;"><span>Link 3</span><svg width="96.6" height="34.9" style="position:absolute;left:-2.5px;top:-2.5px"><ellipse cx="77.1" cy="17.5" rx="9.440000000000001" ry="11.8" fill="#86cc10"/><ellipse cx="77.1" cy="16.0" rx="7.1" ry="8.3" fill="#a2de3a" opacity=".7"/><path d="M77.1 12.0v9m-4 -4l4 4.5l4 -4.5" stroke="#dcf0b8" stroke-width="1.8" fill="none" opacity=".8"/></svg></div><div class="l" style="left:1064.5px;top:1700.5px;width:200.0px;height:26.0px;line-height:26px;text-align:center;">CH4</div><div class="d" style="left:1116.2px;top:1734.8px;width:96.6px;height:34.9px;line-height:29.9px;"><span>Link 4</span><svg width="96.6" height="34.9" style="position:absolute;left:-2.5px;top:-2.5px"><ellipse cx="77.1" cy="17.5" rx="9.440000000000001" ry="11.8" fill="#86cc10"/><ellipse cx="77.1" cy="16.0" rx="7.1" ry="8.3" fill="#a2de3a" opacity=".7"/><path d="M77.1 12.0v9m-4 -4l4 4.5l4 -4.5" stroke="#dcf0b8" stroke-width="1.8" fill="none" opacity=".8"/></svg></div><div class="l" style="left:1196.0px;top:1700.5px;width:200.0px;height:26.0px;line-height:26px;text-align:center;">CH5</div><div class="d" style="left:1247.7px;top:1734.8px;width:96.6px;height:34.9px;line-height:29.9px;"><span>Link 5</span><svg width="96.6" height="34.9" style="position:absolute;left:-2.5px;top:-2.5px"><ellipse cx="77.1" cy="17.5" rx="9.440000000000001" ry="11.8" fill="#86cc10"/><ellipse cx="77.1" cy="16.0" rx="7.1" ry="8.3" fill="#a2de3a" opacity=".7"/><path d="M77.1 12.0v9m-4 -4l4 4.5l4 -4.5" stroke="#dcf0b8" stroke-width="1.8" fill="none" opacity=".8"/></svg></div><div class="l" style="left:1328.0px;top:1700.5px;width:200.0px;height:26.0px;line-height:26px;text-align:center;">CH6</div><div class="d" style="left:1379.7px;top:1734.8px;width:96.6px;height:34.9px;line-height:29.9px;"><span>Link 6</span><svg width="96.6" height="34.9" style="position:absolute;left:-2.5px;top:-2.5px"><ellipse cx="77.1" cy="17.5" rx="9.440000000000001" ry="11.8" fill="#86cc10"/><ellipse cx="77.1" cy="16.0" rx="7.1" ry="8.3" fill="#a2de3a" opacity=".7"/><path d="M77.1 12.0v9m-4 -4l4 4.5l4 -4.5" stroke="#dcf0b8" stroke-width="1.8" fill="none" opacity=".8"/></svg></div><div class="l" style="left:1459.5px;top:1700.5px;width:200.0px;height:26.0px;line-height:26px;text-align:center;">CH7</div><div class="d" style="left:1511.2px;top:1734.8px;width:96.6px;height:34.9px;line-height:29.9px;"><span>Link 7</span><svg width="96.6" height="34.9" style="position:absolute;left:-2.5px;top:-2.5px"><ellipse cx="77.1" cy="17.5" rx="9.440000000000001" ry="11.8" fill="#86cc10"/><ellipse cx="77.1" cy="16.0" rx="7.1" ry="8.3" fill="#a2de3a" opacity=".7"/><path d="M77.1 12.0v9m-4 -4l4 4.5l4 -4.5" stroke="#dcf0b8" stroke-width="1.8" fill="none" opacity=".8"/></svg></div><div class="l" style="left:1593.0px;top:1700.5px;width:200.0px;height:26.0px;line-height:26px;text-align:center;">CH8</div><div class="d" style="left:1644.7px;top:1734.8px;width:96.6px;height:34.9px;line-height:29.9px;"><span>Link 8</span><svg width="96.6" height="34.9" style="position:absolute;left:-2.5px;top:-2.5px"><ellipse cx="77.1" cy="17.5" rx="9.440000000000001" ry="11.8" fill="#86cc10"/><ellipse cx="77.1" cy="16.0" rx="7.1" ry="8.3" fill="#a2de3a" opacity=".7"/><path d="M77.1 12.0v9m-4 -4l4 4.5l4 -4.5" stroke="#dcf0b8" stroke-width="1.8" fill="none" opacity=".8"/></svg></div>
</div></div>
</div></body></html>
